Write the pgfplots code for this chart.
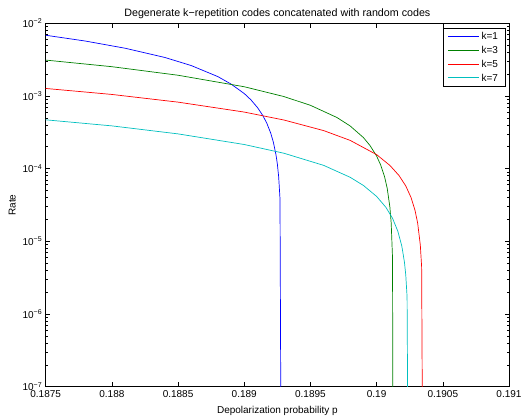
\documentclass[border=0pt]{standalone}
\usepackage{fontspec}
\setmainfont{Liberation Sans}
\usepackage{pgfplots}
\pgfplotsset{compat=1.18}
\usetikzlibrary{calc}
\definecolor{mblue}{rgb}{0,0,1}
\definecolor{mgreen}{rgb}{0,0.5,0}
\definecolor{mred}{rgb}{1,0,0}
\definecolor{mcyan}{rgb}{0,0.75,0.75}

\begin{document}
\begin{tikzpicture}
\begin{axis}[
    scale only axis,
    width=463.3pt, height=363.4pt,
    ymode=log,
    xmin=0.1875, xmax=0.191,
    ymin=1e-7, ymax=1e-2,
    font=\fontsize{10}{12}\selectfont,
    axis line style={line width=0.9pt},
    tick style={black, line width=0.6pt},
    major tick length=4.5pt,
    minor tick length=2.5pt,
    tick align=inside,
    tick pos=both,
    ticklabel pos=left,
    xtick={0.1875,0.188,0.1885,0.189,0.1895,0.19,0.1905,0.191},
    xticklabels={0.1875,0.188,0.1885,0.189,0.1895,0.19,0.1905,0.191},
    ytick={1e-7,1e-6,1e-5,1e-4,1e-3,1e-2},
    yticklabels={10\textsuperscript{−7},10\textsuperscript{−6},10\textsuperscript{−5},10\textsuperscript{−4},10\textsuperscript{−3},10\textsuperscript{−2}},
    minor ytick={2e-7,3e-7,4e-7,5e-7,6e-7,7e-7,8e-7,9e-7,
                 2e-6,3e-6,4e-6,5e-6,6e-6,7e-6,8e-6,9e-6,
                 2e-5,3e-5,4e-5,5e-5,6e-5,7e-5,8e-5,9e-5,
                 2e-4,3e-4,4e-4,5e-4,6e-4,7e-4,8e-4,9e-4,
                 2e-3,3e-3,4e-3,5e-3,6e-3,7e-3,8e-3,9e-3},
    title={Degenerate k−repetition codes concatenated with random codes},
    title style={at={(axis description cs:0.5,1)}, anchor=center, yshift=4pt,
        font=\fontsize{10.7}{12}\selectfont},
    xlabel={Depolarization probability p},
    xlabel style={at={(axis description cs:0.5,0)}, anchor=center, yshift=-24pt},
    ylabel={Rate},
    ylabel style={at={([xshift=-33.4pt]axis description cs:0,0.5)}, anchor=center},
    legend cell align=left,
    legend style={at={(0.992,0.986)}, anchor=north east, draw=black,
        line width=0.6pt, inner xsep=5pt, inner ysep=2pt, row sep=1pt,
        font=\fontsize{10}{12}\selectfont},
    legend image code/.code={\draw[#1, line width=0.7pt] (0pt,0.5pt) -- (31pt,0.5pt);},
    every axis plot/.append style={line width=0.7pt, no marks},
]
% k=1
\addplot[mblue] coordinates {
(0.1875,6.85e-3) (0.1878,5.70e-3) (0.1881,4.54e-3) (0.1884,3.39e-3)
(0.1886,2.62e-3) (0.1888,1.85e-3) (0.1889,1.46e-3) (0.1890,1.08e-3)
(0.18905,8.86e-4) (0.1891,6.93e-4) (0.18914,5.39e-4) (0.18917,4.24e-4)
(0.1892,3.08e-4) (0.18922,2.31e-4) (0.18924,1.54e-4) (0.18925,1.16e-4)
(0.18926,7.7e-5) (0.18927,3.85e-5) (0.18928,1e-9)};
% k=3
\addplot[mgreen] coordinates {
(0.1875,3.12e-3) (0.188,2.53e-3) (0.1885,1.93e-3) (0.189,1.34e-3)
(0.1893,9.82e-4) (0.1895,7.44e-4) (0.1897,5.06e-4) (0.1898,3.87e-4)
(0.1899,2.68e-4) (0.18995,2.08e-4) (0.19,1.49e-4) (0.19003,1.13e-4)
(0.19006,7.74e-5) (0.19008,5.36e-5) (0.1901,2.98e-5) (0.19011,1.79e-5)
(0.19012,5.95e-6) (0.190125,1e-9)};
% k=5
\addplot[mred] coordinates {
(0.1875,1.27e-3) (0.188,1.05e-3) (0.1885,8.23e-4) (0.189,6.01e-4)
(0.1893,4.67e-4) (0.1896,3.34e-4) (0.1898,2.45e-4) (0.19,1.56e-4)
(0.1901,1.11e-4) (0.19017,8.01e-5) (0.19022,5.79e-5) (0.19026,4.01e-5)
(0.19029,2.67e-5) (0.19031,1.78e-5) (0.19033,8.9e-6) (0.19034,4.45e-6)
(0.19035,1e-9)};
% k=7
\addplot[mcyan] coordinates {
(0.1875,4.70e-4) (0.188,3.88e-4) (0.1885,3.01e-4) (0.189,2.15e-4)
(0.1893,1.63e-4) (0.1896,1.11e-4) (0.1898,7.61e-5) (0.1899,5.88e-5)
(0.19,4.15e-5) (0.19007,2.94e-5) (0.19012,2.08e-5) (0.19016,1.38e-5)
(0.19019,8.65e-6) (0.19021,5.19e-6) (0.19022,3.46e-6) (0.19023,1.73e-6)
(0.19024,1e-9)};
\legend{k=1,k=3,k=5,k=7}
\coordinate (bl) at (rel axis cs:0,0);
\coordinate (tr) at (rel axis cs:1,1);
\end{axis}
\pgfresetboundingbox
\path[use as bounding box] ($(bl)+(-45.7pt,-29.3pt)$) rectangle ($(tr)+(14pt,23.3pt)$);
\end{tikzpicture}
\end{document}
